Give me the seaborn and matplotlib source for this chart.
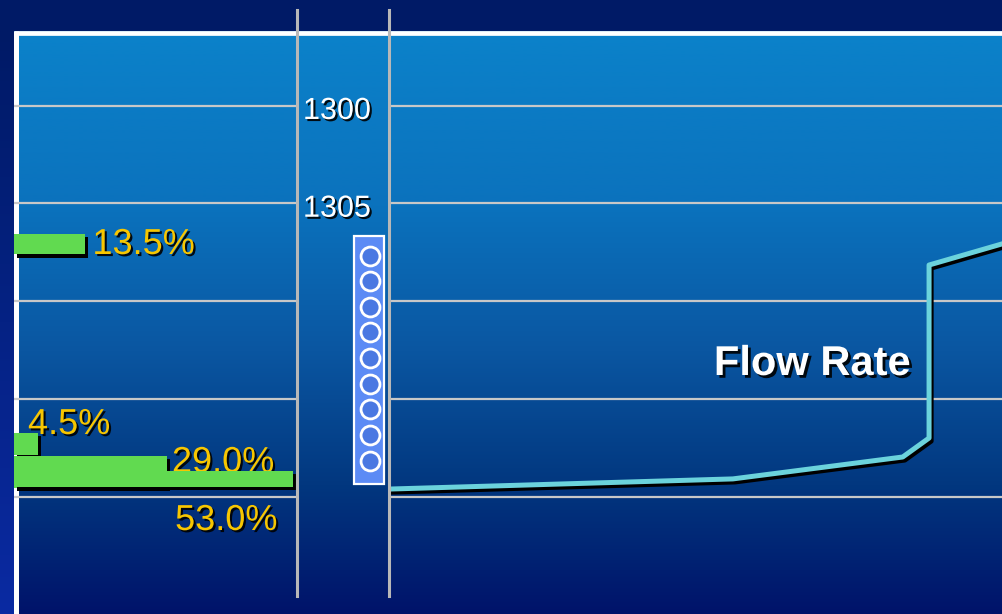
import numpy as np
import matplotlib
matplotlib.use("Agg")
import matplotlib.pyplot as plt
import matplotlib.patheffects as pe
from matplotlib.colors import LinearSegmentedColormap
from matplotlib.patches import Rectangle
import seaborn as sns

plt.rcParams["font.family"] = ["Liberation Sans", "DejaVu Sans"]

# ---- data -------------------------------------------------------------
# depth grid (m) and the labelled depths in the depth track
depth_grid = [1300, 1305, 1310, 1315, 1320]
depth_labels = [1300, 1305]

# producing zones: interval (m) and share of total production (%)
zone_top = [1306.59, 1316.75, 1317.93, 1318.70]
zone_bottom = [1307.62, 1317.88, 1319.57, 1319.52]
zone_share = [13.5, 4.5, 29.0, 53.0]
zone_text = ["13.5%", "4.5%", "29.0%", "53.0%"]

# perforated interval and shot positions (m)
perf_top, perf_bottom = 1306.68, 1319.37
shot_depth = [1307.70, 1308.98, 1310.31, 1311.59, 1312.92,
              1314.25, 1315.52, 1316.85, 1318.18]

# cumulative flow rate profile (% of total) against depth (m)
flow_depth = [1319.62, 1319.10, 1317.98, 1317.01, 1308.16, 1307.08]
flow_rate = [0.0, 56.1, 83.8, 88.1, 88.1, 100.0]

# ---- layout helpers ---------------------------------------------------
W, H = 1002, 614
fig = plt.figure(figsize=(W / 100, H / 100), dpi=100, facecolor="#001a66")


def box(x0, y0, x1, y1):
    return [x0 / W, 1 - y1 / H, (x1 - x0) / W, (y1 - y0) / H]


def to_depth(py):
    return 1300 + (py - 105.5) / 19.55


D_TOP, D_BOT = to_depth(10), to_depth(596)

# ---- slide background and framed panel --------------------------------
ax_bg = fig.add_axes([0, 0, 1, 1])
ax_bg.set_zorder(0)
grad = np.linspace(0, 1, 256).reshape(-1, 1)
panel_cmap = LinearSegmentedColormap.from_list(
    "panel", [(0.0, "#0b82ca"), (0.30, "#0b72bd"), (0.55, "#0a56a1"),
              (0.78, "#02377f"), (1.0, "#00136a")])
strip_cmap = LinearSegmentedColormap.from_list(
    "strip", [(0.0, "#001a66"), (1.0, "#0a2aa2")])
ax_bg.imshow(grad, cmap=panel_cmap, extent=[14, W, H, 31], aspect="auto",
             interpolation="bilinear")
ax_bg.imshow(grad, cmap=strip_cmap, extent=[0, 14, H, 31], aspect="auto",
             interpolation="bilinear")
ax_bg.plot([16, 16], [31, H], color="white", lw=3.6, solid_capstyle="butt")
ax_bg.plot([14, W], [33, 33], color="white", lw=3.4, solid_capstyle="butt")
ax_bg.set_xlim(0, W)
ax_bg.set_ylim(H, 0)
ax_bg.axis("off")

grid_kw = dict(color="#c8c8c8", lw=1.6)
yellow = "#f7c600"
text_shadow = [pe.withSimplePatchShadow(offset=(1.5, -1.5),
                                        shadow_rgbFace="black", alpha=0.9)]


def clean(ax):
    ax.set_facecolor("none")
    ax.set_ylim(D_BOT, D_TOP)
    ax.set_yticks(depth_grid)
    ax.set_xticks([])
    ax.tick_params(length=0, labelleft=False, labelbottom=False)
    ax.set_xlabel("")
    ax.set_ylabel("")
    for s in ax.spines.values():
        s.set_visible(False)


# ---- production share track -------------------------------------------
ax_bar = fig.add_axes(box(14, 10, 297, 596))
ax_bar.set_zorder(2)
clean(ax_bar)
ax_bar.set_xlim(0, 53.76)
ax_bar.yaxis.grid(True, **grid_kw)
ax_bar.set_axisbelow(True)

top = np.array(zone_top)
bot = np.array(zone_bottom)
bars = ax_bar.barh((top + bot) / 2, zone_share, height=bot - top, left=0,
                   color="#61da50", zorder=3)
for b in bars:
    b.set_path_effects([pe.withSimplePatchShadow(
        offset=(2.2, -2.2), shadow_rgbFace="black", alpha=1.0)])

# label placement for each zone: (x, baseline depth, alignment)
label_pos = [
    (zone_share[0] + 1.4, to_depth(254), "left"),
    (2.66, to_depth(434), "left"),
    (zone_share[2] + 1.0, to_depth(472), "left"),
    (zone_share[3] - 3.0, to_depth(530), "right"),
]
for txt, (x, y, ha) in zip(zone_text, label_pos):
    ax_bar.text(x, y, txt, color=yellow, fontsize=26, ha=ha, va="baseline",
                zorder=2.5, path_effects=text_shadow)

# ---- depth track with perforations ------------------------------------
ax_dep = fig.add_axes(box(297, 10, 389, 596))
ax_dep.set_zorder(3)
clean(ax_dep)
ax_dep.set_xlim(0, 1)
for side in ("left", "right"):
    ax_dep.spines[side].set_visible(True)
    ax_dep.spines[side].set_color("#b8b8b8")
    ax_dep.spines[side].set_linewidth(2.2)

for d in depth_labels:
    ax_dep.text(0.065, d + 0.69, str(d), color="white", fontsize=22,
                ha="left", va="baseline", path_effects=text_shadow)

ax_dep.add_patch(Rectangle((0.62, perf_top), 0.326, perf_bottom - perf_top,
                           facecolor="#5c8bf5", edgecolor="white", lw=1.6,
                           zorder=3))
ax_dep.scatter([0.793] * len(shot_depth), shot_depth, s=185,
               facecolor="#4a78e2", edgecolor="white", linewidth=2.0,
               zorder=4)

# ---- flow rate track --------------------------------------------------
ax_flow = fig.add_axes(box(389, 10, W, 596))
ax_flow.set_zorder(2)
sns.lineplot(x=flow_rate, y=flow_depth, sort=False, estimator=None,
             ax=ax_flow, color="#6bd3dc", lw=3.6,
             path_effects=[pe.SimpleLineShadow(offset=(1.5, -2.2),
                                               shadow_color="black",
                                               alpha=1.0),
                           pe.Normal()])
clean(ax_flow)
ax_flow.set_xlim(0, 100)
ax_flow.yaxis.grid(True, **grid_kw)
ax_flow.set_axisbelow(True)
ax_flow.text(53.0, to_depth(375), "Flow Rate", color="white", fontsize=30,
             fontweight="bold", ha="left", va="baseline",
             path_effects=[pe.withSimplePatchShadow(
                 offset=(2, -2), shadow_rgbFace="black", alpha=0.9)])

fig.savefig("out.png", dpi=100, facecolor=fig.get_facecolor())
